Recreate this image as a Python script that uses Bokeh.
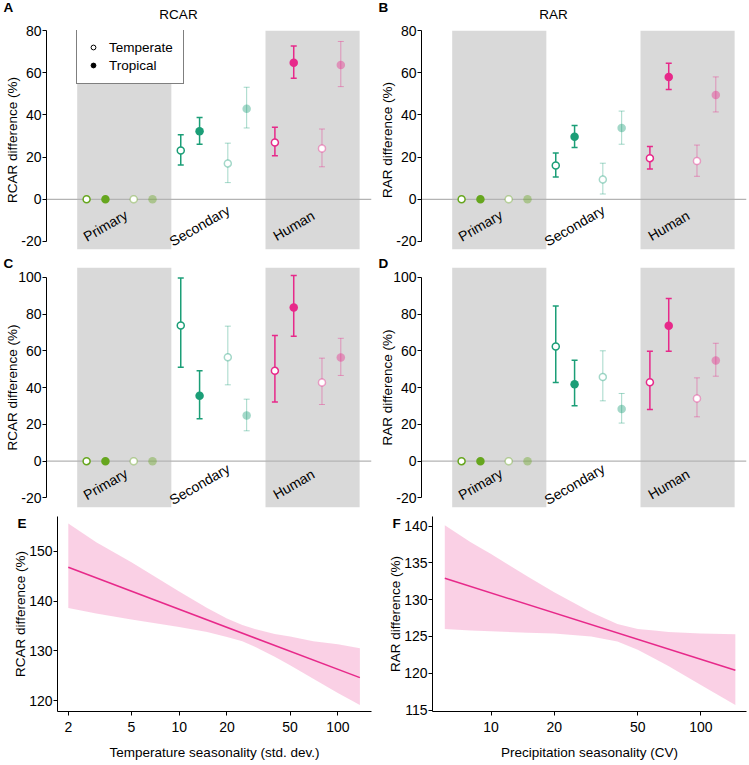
import math
from bokeh.plotting import figure
from bokeh.layouts import column, row
from bokeh.models import (Range1d, BoxAnnotation, Span, Legend, LegendItem, GridBox,
                          FixedTicker, ColumnDataSource, PrintfTickFormatter)
from bokeh.core.properties import value
from bokeh.embed import file_html
from bokeh.resources import INLINE

FONT = "Liberation Sans"
NaN = float("nan")

# ---------------- data ----------------
categories = ["Primary", "Secondary", "Human"]
series = ["Temperate", "Tropical", "Temperate (faded)", "Tropical (faded)"]
cat_colors = ["#66A61E", "#1B9E77", "#E7298A"]

# Panel A - RCAR (rows: series, columns: categories)
a_mean = [[0, 23.1, 26.9], [0, 32.3, 64.7], [0, 17.0, 24.1], [0, 42.9, 63.7]]
a_lo = [[NaN, 16.3, 20.6], [NaN, 26.1, 57.4], [NaN, 7.9, 15.4], [NaN, 33.8, 53.4]]
a_hi = [[NaN, 30.6, 34.1], [NaN, 38.8, 72.6], [NaN, 26.6, 33.3], [NaN, 53.1, 74.8]]

# Panel B - RAR
b_mean = [[0, 16.0, 19.5], [0, 29.6, 58.0], [0, 9.4, 18.1], [0, 33.8, 49.4]]
b_lo = [[NaN, 10.6, 14.3], [NaN, 24.6, 52.0], [NaN, 2.5, 10.9], [NaN, 26.1, 41.4]]
b_hi = [[NaN, 21.9, 25.0], [NaN, 35.0, 64.5], [NaN, 17.1, 25.7], [NaN, 41.8, 58.0]]

# Panel C - RCAR
c_mean = [[0, 73.7, 49.1], [0, 35.5, 83.5], [0, 56.5, 42.8], [0, 24.8, 56.3]]
c_lo = [[NaN, 51.1, 32.2], [NaN, 23.0, 67.9], [NaN, 41.5, 30.8], [NaN, 16.5, 46.6]]
c_hi = [[NaN, 99.6, 68.3], [NaN, 49.1, 100.9], [NaN, 73.4, 56.0], [NaN, 33.7, 66.8]]

# Panel D - RAR
d_mean = [[0, 62.3, 42.9], [0, 41.8, 73.6], [0, 45.7, 34.1], [0, 28.3, 54.7]]
d_lo = [[NaN, 42.8, 28.1], [NaN, 30.1, 59.8], [NaN, 32.8, 24.1], [NaN, 20.7, 46.2]]
d_hi = [[NaN, 84.4, 59.8], [NaN, 54.9, 88.4], [NaN, 60.0, 45.3], [NaN, 36.8, 64.1]]

ab_ticks = [-20, 0, 20, 40, 60, 80]
cd_ticks = [-20, 0, 20, 40, 60, 80, 100]

# Panel E - temperature seasonality
e_line_x = [2, 137.7]
e_line_y = [146.8, 124.6]
e_band_x = [2, 3, 5, 10, 15, 20, 25, 30, 40, 50, 70, 100, 137.7]
e_upper = [155.6, 151.8, 147.8, 141.9, 138.6, 136.5, 135.2, 134.4, 133.4, 132.9, 131.9, 131.3, 130.5]
e_lower = [138.6, 137.5, 136.3, 134.8, 133.8, 132.8, 131.9, 130.8, 128.8, 127.1, 124.4, 121.5, 119.1]
e_xticks = [2, 5, 10, 20, 50, 100]
e_yticks = [120, 130, 140, 150]

# Panel F - precipitation seasonality
f_line_x = [6.02, 146]
f_line_y = [132.9, 120.4]
f_band_x = [6.02, 8, 10, 15, 20, 30, 40, 50, 60, 70, 100, 146]
f_upper = [140.1, 137.8, 136.2, 133.1, 131.0, 128.3, 126.7, 126.0, 125.8, 125.6, 125.4, 125.3]
f_lower = [126.0, 125.8, 125.7, 125.5, 125.4, 125.0, 124.3, 123.2, 122.0, 121.0, 118.4, 115.7]
f_xticks = [10, 20, 50, 100]
f_yticks = [115, 120, 125, 130, 135, 140]

# panel letters and column titles (page pixel positions)
letters = ["A", "B", "C", "D", "E", "F"]
letter_x = [3, 378, 3, 378, 17, 392]
letter_y = [7, 7, 263, 263, 523, 523]
col_titles = ["RCAR", "RAR"]
col_title_x = [178, 553]
col_title_y = [14, 14]

# ---------------- styling ----------------
BAND = "#D9D9D9"
PINK = "#E7298A"
OFFS = [0.1, 0.3, 0.6, 0.8]
PAGE_W, PAGE_H = 749, 763


def style_axes(p, label_standoff):
    for ax in p.axis:
        ax.axis_line_color = "black"
        ax.axis_line_width = 1
        ax.major_tick_line_color = "black"
        ax.major_tick_out = 4
        ax.major_tick_in = 0
        ax.minor_tick_line_color = None
        ax.major_label_text_font = FONT
        ax.major_label_text_font_size = "14px"
        ax.major_label_text_color = "black"
        ax.axis_label_text_font = FONT
        ax.axis_label_text_font_size = "13.5px"
        ax.axis_label_text_font_style = "normal"
        ax.axis_label_text_color = "black"
        ax.major_label_standoff = 1
        ax.axis_label_standoff = label_standoff


def dot_panel(mean, lo, hi, yr, yticks, ylab, width, right, frame_h, top, bottom,
              label_standoff, legend=False):
    p = figure(width=width, height=top + frame_h + bottom,
               x_range=Range1d(-0.326, 3.126), y_range=Range1d(*yr),
               x_axis_location=None, toolbar_location=None, output_backend="svg",
               min_border_left=46, min_border_right=right,
               min_border_top=top, min_border_bottom=bottom)
    p.grid.visible = False
    p.outline_line_color = None
    p.background_fill_color = "white"
    p.border_fill_color = "white"

    for i in range(len(categories)):
        if i % 2 == 0:
            p.add_layout(BoxAnnotation(left=i, right=i + 1, fill_color=BAND, fill_alpha=1,
                                       line_color=None, level="underlay"))
    p.add_layout(Span(location=0, dimension="width", line_color="#b3b3b3",
                      line_width=1.3, level="underlay"))

    for s in range(len(series)):
        faded = s >= 2
        is_open = s % 2 == 0
        alpha = 0.4 if faded else 1.0
        lw = 1.0 if faded else 1.5
        xs = [k + OFFS[s] for k in range(len(categories))]
        ks = [k for k in range(len(categories)) if not math.isnan(lo[s][k])]
        wsrc = ColumnDataSource(dict(x=[xs[k] for k in ks],
                                     lo=[lo[s][k] for k in ks],
                                     hi=[hi[s][k] for k in ks],
                                     c=[cat_colors[k] for k in ks]))
        p.segment(x0="x", y0="lo", x1="x", y1="hi", source=wsrc,
                  line_color="c", line_alpha=alpha, line_width=lw)
        p.scatter(x="x", y="lo", source=wsrc, marker="dash", size=6,
                  line_color="c", line_alpha=alpha, line_width=lw)
        p.scatter(x="x", y="hi", source=wsrc, marker="dash", size=6,
                  line_color="c", line_alpha=alpha, line_width=lw)
        psrc = ColumnDataSource(dict(x=xs, y=mean[s], c=cat_colors))
        if is_open:
            p.scatter(x="x", y="y", source=psrc, size=7, fill_color="white", fill_alpha=1,
                      line_color="c", line_alpha=alpha, line_width=1.5)
        else:
            p.scatter(x="x", y="y", source=psrc, size=8.5, fill_color="c",
                      fill_alpha=alpha, line_color=None)

    p.text(x=[k + 0.3 for k in range(len(categories))], y=[-12.5] * len(categories),
           text=categories, angle=30, angle_units="deg", text_align="center",
           text_baseline="middle", text_font=value(FONT), text_font_size="14px",
           text_color="black")

    p.yaxis.ticker = FixedTicker(ticks=yticks)
    p.yaxis.bounds = (yticks[0], yticks[-1])
    p.yaxis.major_label_overrides = {-20: "-20"}
    p.yaxis.axis_label = ylab
    style_axes(p, label_standoff)

    if legend:
        r1 = p.scatter(x=[NaN], y=[NaN], marker="circle", fill_color="white",
                       line_color="black", line_width=1)
        r2 = p.scatter(x=[NaN], y=[NaN], marker="circle", fill_color="black",
                       line_color="black", line_width=1)
        leg = Legend(items=[LegendItem(label="Temperate", renderers=[r1]),
                            LegendItem(label="Tropical", renderers=[r2])],
                     location=(30, frame_h - 54))
        leg.border_line_color = "black"
        leg.border_line_width = 1
        leg.background_fill_color = "white"
        leg.background_fill_alpha = 1
        leg.padding = 10
        leg.spacing = 2
        leg.margin = 0
        leg.label_height = 16
        leg.glyph_height = 16
        leg.glyph_width = 12
        leg.label_standoff = 10
        leg.label_text_font = FONT
        leg.label_text_font_size = "13.5px"
        leg.label_text_color = "black"
        p.add_layout(leg)
    return p


def trend_panel(lx, ly, bx, up, lowr, xr, yr, xticks, yticks, xlab, ylab, width, right):
    frame_h, top, bottom = 195, 5, 52
    p = figure(width=width, height=top + frame_h + bottom, x_axis_type="log",
               x_range=Range1d(*xr), y_range=Range1d(*yr),
               toolbar_location=None, output_backend="svg",
               min_border_left=57, min_border_right=right,
               min_border_top=top, min_border_bottom=bottom)
    p.grid.visible = False
    p.outline_line_color = None
    p.background_fill_color = "white"
    p.border_fill_color = "white"
    p.varea(x=bx, y1=lowr, y2=up, fill_color=PINK, fill_alpha=0.22)
    p.line(x=lx, y=ly, line_color=PINK, line_width=1.5)
    p.xaxis.ticker = FixedTicker(ticks=xticks)
    p.xaxis.formatter = PrintfTickFormatter(format="%d")
    p.yaxis.ticker = FixedTicker(ticks=yticks)
    p.xaxis.axis_label = xlab
    p.yaxis.axis_label = ylab
    style_axes(p, -2)
    p.xaxis.major_label_standoff = 6
    p.xaxis.axis_label_standoff = 10
    return p


pA = dot_panel(a_mean, a_lo, a_hi, (-23.8, 80), ab_ticks, "RCAR difference (%)",
               375, 4, 219, 30, 3, -2, legend=True)
pB = dot_panel(b_mean, b_lo, b_hi, (-23.8, 80), ab_ticks, "RAR difference (%)",
               374, 3, 219, 30, 3, -2)
pC = dot_panel(c_mean, c_lo, c_hi, (-25.2, 105.3), cd_ticks, "RCAR difference (%)",
               375, 4, 240, 15, 4, -5)
pD = dot_panel(d_mean, d_lo, d_hi, (-25.2, 105.3), cd_ticks, "RAR difference (%)",
               374, 3, 240, 15, 4, -5)
pE = trend_panel(e_line_x, e_line_y, e_band_x, e_upper, e_lower, (1.71, 163), (117.8, 157),
                 e_xticks, e_yticks, "Temperature seasonality (std. dev.)",
                 "RCAR difference (%)", 375, 4)
pF = trend_panel(f_line_x, f_line_y, f_band_x, f_upper, f_lower, (5.26, 165), (114.8, 141.3),
                 f_xticks, f_yticks, "Precipitation seasonality (CV)",
                 "RAR difference (%)", 374, 3)

main = column(row(pA, pB), row(pC, pD), row(pE, pF))

# transparent overlay carrying the panel letters and column titles
ov = figure(width=PAGE_W, height=PAGE_H, x_range=Range1d(0, PAGE_W), y_range=Range1d(PAGE_H, 0),
            x_axis_location=None, y_axis_location=None, toolbar_location=None,
            output_backend="svg", min_border=0)
ov.grid.visible = False
ov.outline_line_color = None
ov.background_fill_color = None
ov.border_fill_color = None
ov.text(x=letter_x, y=letter_y, text=letters, text_align="left", text_baseline="middle",
        text_font=value(FONT), text_font_size="13.5px", text_font_style="bold",
        text_color="black")
ov.text(x=col_title_x, y=col_title_y, text=col_titles, text_align="center",
        text_baseline="middle", text_font=value(FONT), text_font_size="13.5px",
        text_color="black")

layout = GridBox(children=[(main, 0, 0), (ov, 0, 0)])
open("out.html", "w").write(file_html(layout, INLINE))
